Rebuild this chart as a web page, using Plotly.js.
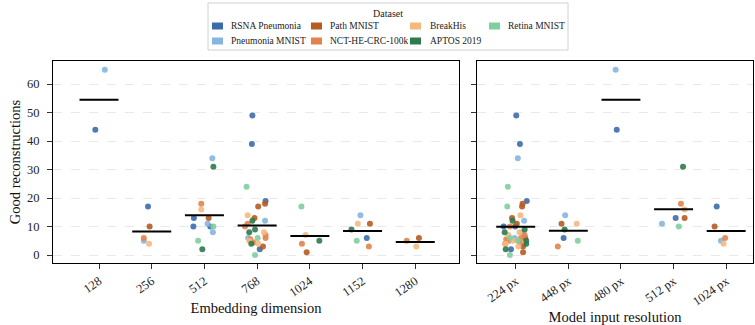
<!DOCTYPE html>
<html><head><meta charset="utf-8">
<script src="https://cdn.plot.ly/plotly-3.0.1.min.js"></script>
<style>html,body{margin:0;padding:0;background:#fff}#chart{width:755px;height:325px}</style>
</head><body><div id="chart"></div>
<script>
// ---------- DATA ----------
const datasets = ['RSNA Pneumonia','Pneumonia MNIST','Path MNIST','NCT-HE-CRC-100k','BreakHis','APTOS 2019','Retina MNIST'];
const datasetCodes = ['RS','PM','PA','NC','BH','AP','RE'];

// Left panel: embedding dimension
const embeddingDims = ['128','256','512','768','1024','1152','1280'];
const embeddingMeans = [54.5, 8.3, 14.0, 10.4, 6.7, 8.4, 4.6];
const embPointDim = [
  '128','128',
  '256','256','256','256','256',
  '512','512','512','512','512','512','512','512','512','512','512','512','512',
  '768','768','768','768','768','768','768','768','768','768','768','768','768','768','768','768','768','768','768','768','768','768','768','768','768','768','768',
  '1024','1024','1024','1024','1024',
  '1152','1152','1152','1152','1152','1152','1152',
  '1280','1280','1280'
];
const embPointSet = [
  'PM','RS',
  'RS','PA','NC','PM','BH',
  'PM','AP','NC','BH','RS','PA','PM','RS','RS','RE','PM','RE','AP',
  'RS','RS','RE','RS','PA','PA','BH','PA','PM','AP','NC','NC','AP','AP','BH','NC','RE','PM','NC','NC','BH','NC','AP','BH','PA','RS','RE',
  'RE','BH','NC','AP','PA',
  'PM','BH','PA','AP','RS','RE','NC',
  'PA','NC','BH'
];
const embPointValue = [
  65,44,
  17,10,6,5,4,
  34,31,18,16,13,13,11,10,10,10,8,5,2,
  49,39,24,19,18,17,14,13,12,12,11,10,9,8,8,7,6,6,6,5.5,5,4.4,4,4,3,2,0,
  17,7,4,5,1,
  14,11,11,9,6,5,3,
  6,5,3
];

// Right panel: model input resolution
const resolutions = ['224 px','448 px','480 px','512 px','1024 px'];
const resolutionMeans = [9.9, 8.5, 54.5, 16.1, 8.4];
const resPointRes = [
  '224 px','224 px','224 px','224 px','224 px','224 px','224 px','224 px','224 px','224 px',
  '224 px','224 px','224 px','224 px','224 px','224 px','224 px','224 px','224 px','224 px',
  '224 px','224 px','224 px','224 px','224 px','224 px','224 px','224 px','224 px','224 px',
  '224 px','224 px','224 px','224 px','224 px','224 px','224 px','224 px','224 px','224 px','224 px',
  '448 px','448 px','448 px','448 px','448 px','448 px','448 px',
  '480 px','480 px',
  '512 px','512 px','512 px','512 px','512 px','512 px','512 px',
  '1024 px','1024 px','1024 px','1024 px','1024 px'
];
const resPointSet = [
  'RS','RS','PM','RE','RS','PA','PA','RE','BH','PA',
  'PM','AP','PA','RS','RS','NC','AP','BH','AP','PM',
  'NC','BH','RE','PM','NC','PA','NC','BH','RE','NC',
  'AP','NC','BH','AP','NC','PA','BH','RS','AP','PA','RE',
  'PM','PA','BH','AP','RS','RE','NC',
  'PM','RS',
  'AP','NC','BH','RS','PA','PM','RE',
  'RS','PA','NC','PM','BH'
];
const resPointValue = [
  49,39,34,24,19,18,17,17,14,13,
  12,12,11,10,10,10,9,8,8,8,
  7,7,6,6,6,6,5.5,5,5,5,
  5,4.4,4,4,4,3,3,2,2,1,0,
  14,11,11,9,6,5,3,
  65,44,
  31,18,16,13,13,11,10,
  17,10,6,5,4
];

// Horizontal strip jitter (category units)
const embJitter = [
  0.11,-0.07,
  -0.07,-0.04,-0.15,-0.15,-0.05,
  0.15,0.17,-0.06,-0.06,-0.20,0.08,0.06,-0.21,0.11,0.17,0.16,-0.12,-0.04,
  -0.09,-0.10,-0.20,0.16,0.15,0.02,-0.18,-0.05,0.15,-0.09,-0.18,-0.23,-0.04,-0.15,0.13,0.16,0.01,-0.17,0.16,-0.13,-0.15,-0.07,-0.11,0.02,0.11,0.05,-0.04,
  -0.16,-0.08,-0.15,0.18,-0.06,
  -0.04,-0.09,0.14,-0.21,0.08,-0.11,0.12,
  0.07,-0.16,0.02
];
const resJitter = [
  0.01,0.08,0.04,-0.15,0.21,0.13,0.12,-0.16,0.09,-0.07,
  0.16,-0.06,0.02,-0.23,-0.01,-0.11,0.17,0.07,-0.21,0.12,
  0.17,-0.14,-0.11,-0.02,0.10,0.18,-0.18,-0.05,0.04,-0.13,
  0.20,0.08,-0.19,0.20,-0.20,0.14,0.05,-0.09,-0.19,0.14,-0.11,
  -0.06,-0.13,0.16,-0.07,-0.09,0.18,-0.20,
  -0.10,-0.08,
  0.18,0.14,0.21,0.04,0.21,-0.22,0.10,
  -0.18,-0.22,-0.02,-0.10,-0.05
];

// ---------- STYLE ----------
const colors = ['#3c6bab','#84b6de','#b65b22','#e3834c','#f4b97f','#2f7a4c','#80cf9f'];
const FONT = '"Liberation Serif", "Times New Roman", serif';
const HALF = 0.37;

function panelTraces(cats, pCat, pSet, pVal, pJit, means, xa, ya) {
  const traces = [];
  datasetCodes.forEach((code, k) => {
    const xs = [], ys = [];
    pSet.forEach((s, i) => {
      if (s === code) { xs.push(cats.indexOf(pCat[i]) + pJit[i]); ys.push(pVal[i]); }
    });
    traces.push({type:'scatter', mode:'markers', x:xs, y:ys, xaxis:xa, yaxis:ya,
      name:datasets[k], showlegend:false, hoverinfo:'skip',
      marker:{color:colors[k], size:6, opacity:0.9, line:{width:0}}});
  });
  const lx = [], ly = [];
  means.forEach((m, i) => { lx.push(i - HALF, i + HALF, null); ly.push(m, m, null); });
  traces.push({type:'scatter', mode:'lines', x:lx, y:ly, xaxis:xa, yaxis:ya,
    line:{color:'#000', width:2}, showlegend:false, hoverinfo:'skip'});
  return traces;
}

const data = [].concat(
  panelTraces(embeddingDims, embPointDim, embPointSet, embPointValue, embJitter, embeddingMeans, 'x', 'y'),
  panelTraces(resolutions, resPointRes, resPointSet, resPointValue, resJitter, resolutionMeans, 'x2', 'y2')
);

// ---------- LAYOUT ----------
const M = {l:53, r:2, t:61, b:62};
const PW = 755 - M.l - M.r, PH = 325 - M.t - M.b;
const px = v => (v - M.l) / PW;
const py = v => (325 - M.b - v) / PH;

const axisCommon = {
  showline:true, mirror:true, linecolor:'#000', linewidth:1.1,
  ticks:'outside', ticklen:5, tickwidth:1, tickcolor:'#333',
  zeroline:false, automargin:false, tickfont:{size:12.5, family:FONT, color:'#222'}
};
const yTicks = [0,10,20,30,40,50,60];

const shapes = [];
const annotations = [];
// legend frame
shapes.push({type:'rect', xref:'paper', yref:'paper', x0:px(208), x1:px(568), y0:py(50), y1:py(3),
  line:{color:'#d0d0d0', width:1}, fillcolor:'rgba(255,255,255,0.8)', layer:'above'});
annotations.push({xref:'paper', yref:'paper', x:px(388), y:py(13), text:'Dataset', showarrow:false,
  xanchor:'center', yanchor:'middle', font:{size:10, family:FONT, color:'#222'}});
const swatchX = [212, 311, 410, 489];
const textX = [230, 329, 429, 507];
const rowY = [26, 41];
datasets.forEach((name, k) => {
  const c = Math.floor(k / 2), r = k % 2;
  shapes.push({type:'rect', xref:'paper', yref:'paper', x0:px(swatchX[c]), x1:px(swatchX[c] + 11),
    y0:py(rowY[r] + 3.5), y1:py(rowY[r] - 3.5), line:{width:0}, fillcolor:colors[k], layer:'above'});
  annotations.push({xref:'paper', yref:'paper', x:px(textX[c] - 1), y:py(rowY[r]), text:name, showarrow:false,
    xanchor:'left', yanchor:'middle', font:{size:9.5, family:FONT, color:'#222'}});
});

const layout = {
  width:755, height:325, margin:M, showlegend:false,
  paper_bgcolor:'#fff', plot_bgcolor:'#fff',
  font:{family:FONT, color:'#000', size:11},
  xaxis:Object.assign({}, axisCommon, {
    domain:[0, px(459)], anchor:'y', range:[-0.873, 6.83],
    tickvals:embeddingDims.map((d, i) => i), ticktext:embeddingDims, tickangle:-35, showgrid:false,
    title:{text:'Embedding dimension', font:{size:14.5, family:FONT, color:'#111'}, standoff:4}
  }),
  yaxis:Object.assign({}, axisCommon, {
    domain:[0, 1], anchor:'x', range:[-2.8, 68.1], tickvals:yTicks, ticklabelstandoff:5,
    showgrid:true, gridcolor:'#e4e4e4', gridwidth:0.8, griddash:'dash',
    title:{text:'Good reconstructions', font:{size:14.5, family:FONT, color:'#111'}, standoff:2}
  }),
  xaxis2:Object.assign({}, axisCommon, {
    domain:[px(477), 1], anchor:'y2', range:[-0.736, 4.51],
    tickvals:resolutions.map((d, i) => i), ticktext:resolutions, tickangle:-35, showgrid:false,
    title:{text:'Model input resolution', font:{size:14.5, family:FONT, color:'#111'}, standoff:4}
  }),
  yaxis2:Object.assign({}, axisCommon, {
    domain:[0, 1], anchor:'x2', range:[-2.8, 68.1], tickvals:yTicks, showticklabels:false,
    showgrid:true, gridcolor:'#e4e4e4', gridwidth:0.8, griddash:'dash'
  }),
  shapes:shapes, annotations:annotations
};

Plotly.newPlot('chart', data, layout, {staticPlot:true, displayModeBar:false});
</script>
</body></html>
